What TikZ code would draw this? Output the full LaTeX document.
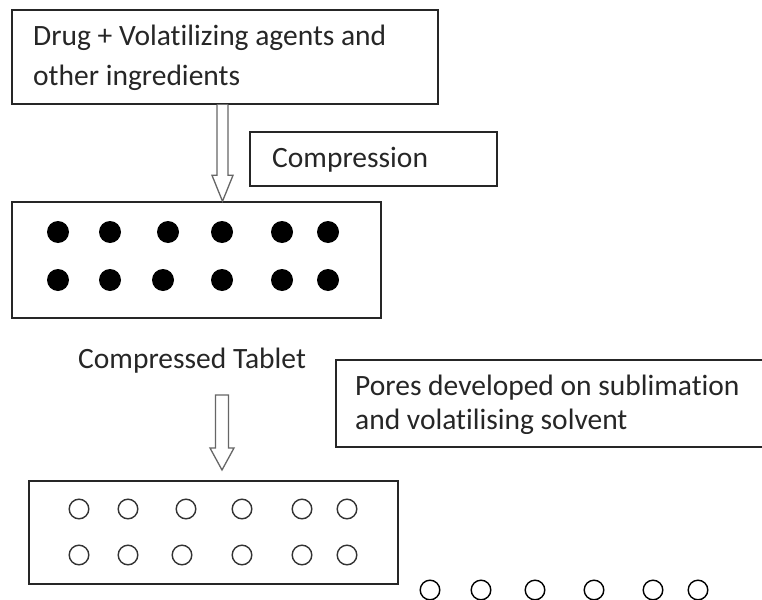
\documentclass[tikz,border=0pt]{standalone}
\usepackage{fontspec}
\setmainfont{Carlito}[Ligatures=NoCommon]
\begin{document}
\begin{tikzpicture}[x=1pt,y=-1pt,
  box/.style={draw=black!85,line width=1.4pt,inner sep=0pt},
  lbl/.style={anchor=base west,inner sep=0pt,text=black!85,font=\fontsize{29.5}{40}\selectfont},
  blockarrow/.style={draw=black!60,line width=1.3pt,fill=white,line join=miter},
  dot/.style={fill=black},
  pore/.style={draw=black!80,line width=1.4pt},
  loose/.style={draw=black,line width=1.4pt}]
\clip (0,0) rectangle (762,599);
\fill[white] (0,0) rectangle (762,599);
% boxes
\node[box,minimum width=426pt,minimum height=94pt] (mix) at (225,57) {};
\node[lbl] (mixa) at (33,46) {Drug + Volatilizing agents and};
\node[lbl] (mixb) at (33,86) {other ingredients};
\node[box,minimum width=247pt,minimum height=54pt] (comp) at (373.5,159) {};
\node[lbl] (compt) at (272,167) {Compression};
\node[box,minimum width=369pt,minimum height=116pt] (tab) at (196.5,260) {};
\node[lbl] (tabt) at (78,368) {Compressed Tablet};
\draw[draw=black!85,line width=1.4pt] (770,360) -- (336,360) -- (336,447) -- (770,447);
\coordinate (poresbox) at (336,360);
\begin{scope}
\clip (336,360) rectangle (770,433);
\node[lbl] (poresa) at (355,395) {Pores developed on sublimation};
\node[lbl] (poresb) at (355,429) {and volatilising solvent};
\end{scope}
\node[box,minimum width=369pt,minimum height=103pt] (porous) at (213.5,532.5) {};
% arrow 1 (open at top, meets box)
\coordinate (a1top) at (mix.south -| 222.5,0);
\coordinate (a1tip) at (tab.north -| 222.5,0);
\draw[blockarrow] ([xshift=-5.5pt]a1top) -- ([xshift=-5.5pt,yshift=26pt]a1tip)
  -- ([xshift=-10.5pt,yshift=26pt]a1tip) -- (a1tip) -- ([xshift=10.5pt,yshift=26pt]a1tip)
  -- ([xshift=5.5pt,yshift=26pt]a1tip) -- ([xshift=5.5pt]a1top);
% arrow 2 (closed)
\coordinate (a2top) at (222,395);
\coordinate (a2tip) at (222,470);
\draw[blockarrow] ([xshift=-6.5pt]a2top) -- ([xshift=-6.5pt,yshift=22pt]a2tip)
  -- ([xshift=-12pt,yshift=22pt]a2tip) -- (a2tip) -- ([xshift=12pt,yshift=22pt]a2tip)
  -- ([xshift=6.5pt,yshift=22pt]a2tip) -- ([xshift=6.5pt]a2top) -- cycle;
% solid dots
\foreach \x in {58,110,168,222,282,328} \fill[dot] (\x,232) circle (11);
\foreach \x in {58,110,163,222,282,328} \fill[dot] (\x,280) circle (11);
% pores
\foreach \x in {79,128,186,242,302,347} \draw[pore] (\x,509) circle (9.8);
\foreach \x in {79,128,182,242,302,347} \draw[pore] (\x,555) circle (9.8);
% released pores
\foreach \x in {430,481,535,594,653,698} \draw[loose] (\x,590) circle (9.8);
\end{tikzpicture}
\end{document}
